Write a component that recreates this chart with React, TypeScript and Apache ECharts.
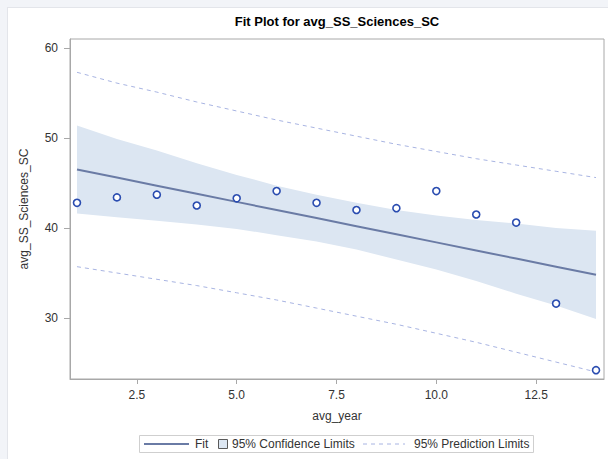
import React, { useEffect, useRef } from "react";
import * as echarts from "echarts";

const years = [1, 2, 3, 4, 5, 6, 7, 8, 9, 10, 11, 12, 13, 14];
const observed = [42.8, 43.4, 43.7, 42.5, 43.3, 44.1, 42.8, 42.0, 42.2, 44.1, 41.5, 40.6, 31.6, 24.2];
const fitValues = [46.5, 45.6, 44.7, 43.8, 42.9, 42.0, 41.1, 40.2, 39.3, 38.4, 37.5, 36.6, 35.7, 34.8];
const ciLower = [41.6, 41.2, 40.8, 40.4, 39.9, 39.2, 38.5, 37.6, 36.5, 35.4, 34.1, 32.7, 31.4, 29.9];
const ciUpper = [51.4, 49.9, 48.6, 47.2, 45.9, 44.7, 43.7, 42.8, 42.0, 41.4, 40.9, 40.5, 40.0, 39.7];
const piLower = [35.7, 35.0, 34.3, 33.6, 32.8, 32.0, 31.1, 30.2, 29.3, 28.3, 27.3, 26.2, 25.1, 24.0];
const piUpper = [57.3, 56.1, 55.1, 54.0, 53.0, 52.0, 51.1, 50.2, 49.3, 48.5, 47.7, 47.0, 46.3, 45.6];
const xTicks = [2.5, 5.0, 7.5, 10.0, 12.5];
const yTicks = [30, 40, 50, 60];

const FONT = "'Liberation Sans', Arial, sans-serif";
const TXT = "#333333";
const FRAME = "#A8A8A8";
const BAND = "#DCE6F2";
const FIT = "#6A7BA5";
const PRED = "#A8B4E2";
const MARK = "#2A4CB0";

export default function App() {
  const ref = useRef<HTMLDivElement>(null);
  useEffect(() => {
    document.body.style.margin = "0";
    const chart = echarts.init(ref.current!, null, { renderer: "svg" });
    const pairs = (arr: number[]) => years.map((x, i) => [x, arr[i]]);
    chart.setOption({
      animation: false,
      title: {
        text: "Fit Plot for avg_SS_Sciences_SC",
        left: 337,
        top: 15,
        textAlign: "center",
        padding: 0,
        textStyle: { fontFamily: FONT, fontSize: 13, fontWeight: "bold", color: "#000" },
      },
      grid: {
        left: 70,
        top: 39,
        width: 534,
        height: 340,
        show: true,
        borderColor: FRAME,
        borderWidth: 1,
        backgroundColor: "transparent",
        containLabel: false,
      },
      xAxis: {
        type: "value",
        min: 0.825,
        max: 14.2,
        name: "avg_year",
        nameLocation: "middle",
        nameGap: 31,
        nameTextStyle: { fontFamily: FONT, fontSize: 12, color: TXT },
        axisLine: { show: true, lineStyle: { color: FRAME } },
        axisTick: { show: true, length: 5, customValues: xTicks, lineStyle: { color: FRAME } },
        axisLabel: {
          customValues: xTicks,
          margin: 10,
          fontFamily: FONT,
          fontSize: 12,
          color: TXT,
          formatter: (v: number) => v.toFixed(1),
        },
        splitLine: { show: false },
      },
      yAxis: {
        type: "value",
        min: 23.22,
        max: 61,
        name: "avg_SS_Sciences_SC",
        nameLocation: "middle",
        nameGap: 40,
        nameTextStyle: { fontFamily: FONT, fontSize: 12, color: TXT },
        axisLine: { show: true, lineStyle: { color: FRAME } },
        axisTick: { show: true, length: 6, customValues: yTicks, lineStyle: { color: FRAME } },
        axisLabel: { customValues: yTicks, margin: 12, fontFamily: FONT, fontSize: 12, color: TXT },
        splitLine: { show: false },
      },
      series: [
        {
          name: "95% Confidence Limits",
          type: "custom",
          data: [0],
          silent: true,
          z: 1,
          renderItem: (_params: any, api: any) => {
            const upper = years.map((x, i) => api.coord([x, ciUpper[i]]));
            const lower = years.map((x, i) => api.coord([x, ciLower[i]])).reverse();
            return {
              type: "polygon",
              shape: { points: upper.concat(lower) },
              style: { fill: BAND, stroke: "none" },
            };
          },
        },
        {
          name: "95% Prediction Limits",
          type: "line",
          data: pairs(piUpper),
          symbol: "none",
          lineStyle: { color: PRED, width: 1, type: [4, 4] },
          z: 2,
        },
        {
          name: "95% Prediction Limits Lower",
          type: "line",
          data: pairs(piLower),
          symbol: "none",
          lineStyle: { color: PRED, width: 1, type: [4, 4] },
          z: 2,
        },
        {
          name: "Fit",
          type: "line",
          data: pairs(fitValues),
          symbol: "none",
          lineStyle: { color: FIT, width: 2 },
          z: 3,
        },
        {
          name: "avg_SS_Sciences_SC",
          type: "scatter",
          data: pairs(observed),
          symbol: "circle",
          symbolSize: 7,
          itemStyle: { color: "#FFFFFF", borderColor: MARK, borderWidth: 1.6, opacity: 1 },
          z: 4,
        },
      ],
      graphic: [
        {
          type: "rect",
          shape: { x: 139.5, y: 435.5, width: 394, height: 17 },
          style: { fill: "#FFFFFF", stroke: "#CFCFCF", lineWidth: 1 },
        },
        {
          type: "line",
          shape: { x1: 144, y1: 444, x2: 189, y2: 444 },
          style: { stroke: FIT, lineWidth: 2 },
        },
        {
          type: "text",
          x: 195,
          y: 444,
          style: { text: "Fit", font: `12px ${FONT}`, fill: TXT, verticalAlign: "middle" },
        },
        {
          type: "rect",
          shape: { x: 218.5, y: 439.5, width: 9, height: 9 },
          style: { fill: BAND, stroke: "#5A5A5A", lineWidth: 1 },
        },
        {
          type: "text",
          x: 232,
          y: 444,
          style: { text: "95% Confidence Limits", font: `12px ${FONT}`, fill: TXT, verticalAlign: "middle" },
        },
        {
          type: "line",
          shape: { x1: 363, y1: 444, x2: 405, y2: 444 },
          style: { stroke: PRED, lineWidth: 1, lineDash: [4, 4] },
        },
        {
          type: "text",
          x: 414,
          y: 444,
          style: { text: "95% Prediction Limits", font: `12px ${FONT}`, fill: TXT, verticalAlign: "middle" },
        },
      ],
    });
    return () => chart.dispose();
  }, []);

  return (
    <div style={{ position: "relative", width: 608, height: 459, background: "#F2F4F8", overflow: "hidden" }}>
      <div
        style={{
          position: "absolute",
          left: 7,
          top: 7,
          width: 601,
          height: 452,
          background: "#FFFFFF",
          borderLeft: "1px solid #E3E5EA",
          borderTop: "1px solid #E3E5EA",
          boxSizing: "border-box",
        }}
      />
      <div ref={ref} style={{ position: "absolute", left: 0, top: 0, width: 608, height: 459 }} />
    </div>
  );
}
